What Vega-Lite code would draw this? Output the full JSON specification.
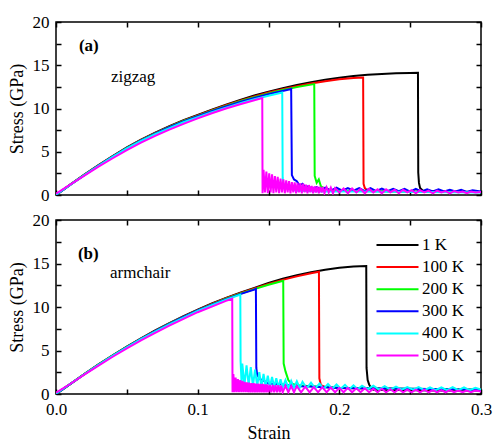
{
"$schema": "https://vega.github.io/schema/vega-lite/v6.json",
"padding": {"left": 7, "top": 12, "right": 2, "bottom": 1},
"config": {
  "font": "Liberation Serif",
  "view": {"stroke": "black", "strokeWidth": 1.5},
  "axis": {"domain": false, "grid": false, "tickColor": "black", "tickWidth": 1.5, "tickSize": -5, "labelColor": "black", "labelFontSize": 17, "labelFont": "Liberation Serif", "labelFlush": false, "labelOverlap": false, "titleFont": "Liberation Serif", "titleFontSize": 18, "titleFontWeight": "normal", "titleColor": "black"},
  "legend": {"labelFont": "Liberation Serif"}
},
"datasets": {
"zz": [
{"T":"1 K","e":0,"s":0},{"T":"1 K","e":0.01,"s":1.2},{"T":"1 K","e":0.02,"s":2.35},{"T":"1 K","e":0.03,"s":3.45},{"T":"1 K","e":0.04,"s":4.5},{"T":"1 K","e":0.05,"s":5.5},{"T":"1 K","e":0.06,"s":6.4},{"T":"1 K","e":0.07,"s":7.2},{"T":"1 K","e":0.08,"s":7.95},{"T":"1 K","e":0.09,"s":8.65},{"T":"1 K","e":0.1,"s":9.25},{"T":"1 K","e":0.11,"s":9.87},{"T":"1 K","e":0.12,"s":10.45},{"T":"1 K","e":0.13,"s":11.0},{"T":"1 K","e":0.14,"s":11.5},{"T":"1 K","e":0.15,"s":11.95},{"T":"1 K","e":0.16,"s":12.35},{"T":"1 K","e":0.17,"s":12.72},{"T":"1 K","e":0.18,"s":13.05},{"T":"1 K","e":0.19,"s":13.32},{"T":"1 K","e":0.2,"s":13.55},{"T":"1 K","e":0.21,"s":13.75},{"T":"1 K","e":0.22,"s":13.9},{"T":"1 K","e":0.23,"s":14.0},{"T":"1 K","e":0.24,"s":14.07},{"T":"1 K","e":0.25,"s":14.11},{"T":"1 K","e":0.2555,"s":14.12},{"T":"1 K","e":0.2557,"s":2.6},{"T":"1 K","e":0.2562,"s":1.4},{"T":"1 K","e":0.257,"s":0.8},{"T":"1 K","e":0.259,"s":0.5},{"T":"1 K","e":0.265,"s":0.45},{"T":"1 K","e":0.275,"s":0.4},{"T":"1 K","e":0.29,"s":0.35},{"T":"1 K","e":0.3,"s":0.35},
{"T":"100 K","e":0,"s":0},{"T":"100 K","e":0.01,"s":1.19},{"T":"100 K","e":0.02,"s":2.33},{"T":"100 K","e":0.03,"s":3.43},{"T":"100 K","e":0.04,"s":4.47},{"T":"100 K","e":0.05,"s":5.46},{"T":"100 K","e":0.06,"s":6.36},{"T":"100 K","e":0.07,"s":7.15},{"T":"100 K","e":0.08,"s":7.9},{"T":"100 K","e":0.09,"s":8.6},{"T":"100 K","e":0.1,"s":9.19},{"T":"100 K","e":0.11,"s":9.8},{"T":"100 K","e":0.12,"s":10.37},{"T":"100 K","e":0.13,"s":10.91},{"T":"100 K","e":0.14,"s":11.4},{"T":"100 K","e":0.15,"s":11.84},{"T":"100 K","e":0.16,"s":12.23},{"T":"100 K","e":0.17,"s":12.58},{"T":"100 K","e":0.18,"s":12.9},{"T":"100 K","e":0.19,"s":13.16},{"T":"100 K","e":0.2,"s":13.38},{"T":"100 K","e":0.21,"s":13.52},{"T":"100 K","e":0.2168,"s":13.58},{"T":"100 K","e":0.2171,"s":1.3},{"T":"100 K","e":0.218,"s":0.8},{"T":"100 K","e":0.22,"s":0.5},{"T":"100 K","e":0.23,"s":0.45},{"T":"100 K","e":0.25,"s":0.4},{"T":"100 K","e":0.27,"s":0.4},{"T":"100 K","e":0.3,"s":0.35},
{"T":"200 K","e":0,"s":0},{"T":"200 K","e":0.01,"s":1.18},{"T":"200 K","e":0.02,"s":2.32},{"T":"200 K","e":0.03,"s":3.41},{"T":"200 K","e":0.04,"s":4.45},{"T":"200 K","e":0.05,"s":5.44},{"T":"200 K","e":0.06,"s":6.33},{"T":"200 K","e":0.07,"s":7.12},{"T":"200 K","e":0.08,"s":7.86},{"T":"200 K","e":0.09,"s":8.55},{"T":"200 K","e":0.1,"s":9.14},{"T":"200 K","e":0.11,"s":9.74},{"T":"200 K","e":0.12,"s":10.3},{"T":"200 K","e":0.13,"s":10.83},{"T":"200 K","e":0.14,"s":11.31},{"T":"200 K","e":0.15,"s":11.75},{"T":"200 K","e":0.16,"s":12.13},{"T":"200 K","e":0.17,"s":12.47},{"T":"200 K","e":0.18,"s":12.76},{"T":"200 K","e":0.1823,"s":12.82},{"T":"200 K","e":0.1826,"s":2.2},{"T":"200 K","e":0.184,"s":1.4},{"T":"200 K","e":0.1855,"s":1.8},{"T":"200 K","e":0.187,"s":1.0},{"T":"200 K","e":0.19,"s":0.7},{"T":"200 K","e":0.195,"s":0.55},{"T":"200 K","e":0.21,"s":0.45},{"T":"200 K","e":0.24,"s":0.4},{"T":"200 K","e":0.27,"s":0.38},{"T":"200 K","e":0.3,"s":0.35},
{"T":"300 K","e":0,"s":0},{"T":"300 K","e":0.01,"s":1.17},{"T":"300 K","e":0.02,"s":2.3},{"T":"300 K","e":0.03,"s":3.39},{"T":"300 K","e":0.04,"s":4.43},{"T":"300 K","e":0.05,"s":5.42},{"T":"300 K","e":0.06,"s":6.3},{"T":"300 K","e":0.07,"s":7.09},{"T":"300 K","e":0.08,"s":7.83},{"T":"300 K","e":0.09,"s":8.51},{"T":"300 K","e":0.1,"s":9.1},{"T":"300 K","e":0.11,"s":9.69},{"T":"300 K","e":0.12,"s":10.24},{"T":"300 K","e":0.13,"s":10.76},{"T":"300 K","e":0.14,"s":11.23},{"T":"300 K","e":0.15,"s":11.66},{"T":"300 K","e":0.16,"s":12.03},{"T":"300 K","e":0.166,"s":12.25},{"T":"300 K","e":0.1665,"s":2.3},{"T":"300 K","e":0.168,"s":1.8},{"T":"300 K","e":0.17,"s":1.6},{"T":"300 K","e":0.172,"s":1.1},{"T":"300 K","e":0.174,"s":1.3},{"T":"300 K","e":0.176,"s":0.9},{"T":"300 K","e":0.178,"s":1.0},{"T":"300 K","e":0.181,"s":0.7},{"T":"300 K","e":0.184,"s":0.9},{"T":"300 K","e":0.187,"s":0.6},{"T":"300 K","e":0.19,"s":0.85},{"T":"300 K","e":0.194,"s":0.5},{"T":"300 K","e":0.198,"s":0.85},{"T":"300 K","e":0.202,"s":0.5},{"T":"300 K","e":0.206,"s":0.8},{"T":"300 K","e":0.21,"s":0.5},{"T":"300 K","e":0.214,"s":0.8},{"T":"300 K","e":0.218,"s":0.45},{"T":"300 K","e":0.222,"s":0.8},{"T":"300 K","e":0.226,"s":0.45},{"T":"300 K","e":0.23,"s":0.75},{"T":"300 K","e":0.234,"s":0.45},{"T":"300 K","e":0.238,"s":0.7},{"T":"300 K","e":0.242,"s":0.45},{"T":"300 K","e":0.246,"s":0.7},{"T":"300 K","e":0.25,"s":0.4},{"T":"300 K","e":0.254,"s":0.7},{"T":"300 K","e":0.258,"s":0.4},{"T":"300 K","e":0.262,"s":0.65},{"T":"300 K","e":0.266,"s":0.4},{"T":"300 K","e":0.27,"s":0.65},{"T":"300 K","e":0.274,"s":0.4},{"T":"300 K","e":0.278,"s":0.6},{"T":"300 K","e":0.282,"s":0.4},{"T":"300 K","e":0.286,"s":0.6},{"T":"300 K","e":0.29,"s":0.35},{"T":"300 K","e":0.294,"s":0.55},{"T":"300 K","e":0.3,"s":0.4},
{"T":"400 K","e":0,"s":0.05},{"T":"400 K","e":0.01,"s":1.17},{"T":"400 K","e":0.02,"s":2.3},{"T":"400 K","e":0.03,"s":3.38},{"T":"400 K","e":0.04,"s":4.41},{"T":"400 K","e":0.05,"s":5.38},{"T":"400 K","e":0.06,"s":6.25},{"T":"400 K","e":0.07,"s":7.02},{"T":"400 K","e":0.08,"s":7.74},{"T":"400 K","e":0.09,"s":8.41},{"T":"400 K","e":0.1,"s":9.0},{"T":"400 K","e":0.11,"s":9.57},{"T":"400 K","e":0.12,"s":10.1},{"T":"400 K","e":0.13,"s":10.6},{"T":"400 K","e":0.14,"s":11.06},{"T":"400 K","e":0.15,"s":11.48},{"T":"400 K","e":0.1597,"s":11.85},{"T":"400 K","e":0.16,"s":2.0},{"T":"400 K","e":0.1605,"s":1.2},{"T":"400 K","e":0.163,"s":0.8},{"T":"400 K","e":0.17,"s":0.5},{"T":"400 K","e":0.19,"s":0.4},{"T":"400 K","e":0.22,"s":0.4},{"T":"400 K","e":0.26,"s":0.35},{"T":"400 K","e":0.3,"s":0.3},
{"T":"500 K","e":0,"s":0.15},{"T":"500 K","e":0.01,"s":1.2},{"T":"500 K","e":0.02,"s":2.25},{"T":"500 K","e":0.03,"s":3.27},{"T":"500 K","e":0.04,"s":4.25},{"T":"500 K","e":0.05,"s":5.2},{"T":"500 K","e":0.06,"s":6.05},{"T":"500 K","e":0.07,"s":6.83},{"T":"500 K","e":0.08,"s":7.55},{"T":"500 K","e":0.09,"s":8.23},{"T":"500 K","e":0.1,"s":8.86},{"T":"500 K","e":0.11,"s":9.45},{"T":"500 K","e":0.12,"s":10.0},{"T":"500 K","e":0.13,"s":10.5},{"T":"500 K","e":0.14,"s":10.95},{"T":"500 K","e":0.1456,"s":11.2},{"T":"500 K","e":0.1458,"s":0.2},
{"T":"500 K","e":0.1465,"s":2.9},{"T":"500 K","e":0.1475,"s":0.3},{"T":"500 K","e":0.1485,"s":2.7},{"T":"500 K","e":0.1495,"s":0.2},{"T":"500 K","e":0.1505,"s":2.5},{"T":"500 K","e":0.1515,"s":0.3},{"T":"500 K","e":0.1525,"s":2.4},{"T":"500 K","e":0.1535,"s":0.2},{"T":"500 K","e":0.1545,"s":2.2},{"T":"500 K","e":0.1555,"s":0.3},{"T":"500 K","e":0.1565,"s":2.1},{"T":"500 K","e":0.1575,"s":0.2},{"T":"500 K","e":0.1585,"s":1.9},{"T":"500 K","e":0.1595,"s":0.3},{"T":"500 K","e":0.1605,"s":1.8},{"T":"500 K","e":0.1615,"s":0.2},{"T":"500 K","e":0.1625,"s":1.7},{"T":"500 K","e":0.1635,"s":0.3},{"T":"500 K","e":0.1645,"s":1.6},{"T":"500 K","e":0.1655,"s":0.2},{"T":"500 K","e":0.1665,"s":1.5},{"T":"500 K","e":0.1675,"s":0.3},{"T":"500 K","e":0.1685,"s":1.45},{"T":"500 K","e":0.1695,"s":0.2},{"T":"500 K","e":0.1705,"s":1.4},{"T":"500 K","e":0.1715,"s":0.3},{"T":"500 K","e":0.1725,"s":1.35},{"T":"500 K","e":0.1735,"s":0.2},{"T":"500 K","e":0.1745,"s":1.3},{"T":"500 K","e":0.1755,"s":0.3},{"T":"500 K","e":0.1765,"s":1.2},{"T":"500 K","e":0.1775,"s":0.2},{"T":"500 K","e":0.1785,"s":1.15},{"T":"500 K","e":0.1795,"s":0.3},{"T":"500 K","e":0.1805,"s":1.05},{"T":"500 K","e":0.1815,"s":0.2},{"T":"500 K","e":0.1825,"s":1.0},{"T":"500 K","e":0.1835,"s":0.3},{"T":"500 K","e":0.1845,"s":0.98},{"T":"500 K","e":0.1855,"s":0.2},{"T":"500 K","e":0.1865,"s":0.95},{"T":"500 K","e":0.1875,"s":0.3},{"T":"500 K","e":0.1885,"s":0.92},{"T":"500 K","e":0.1895,"s":0.2},
{"T":"500 K","e":0.191,"s":0.9},{"T":"500 K","e":0.1925,"s":0.3},{"T":"500 K","e":0.194,"s":0.85},{"T":"500 K","e":0.1955,"s":0.2},{"T":"500 K","e":0.197,"s":0.8},{"T":"500 K","e":0.2,"s":0.3},{"T":"500 K","e":0.203,"s":0.75},{"T":"500 K","e":0.206,"s":0.2},{"T":"500 K","e":0.209,"s":0.75},{"T":"500 K","e":0.212,"s":0.3},{"T":"500 K","e":0.215,"s":0.7},{"T":"500 K","e":0.218,"s":0.2},{"T":"500 K","e":0.221,"s":0.7},{"T":"500 K","e":0.224,"s":0.3},{"T":"500 K","e":0.227,"s":0.65},{"T":"500 K","e":0.23,"s":0.2},{"T":"500 K","e":0.233,"s":0.65},{"T":"500 K","e":0.236,"s":0.3},{"T":"500 K","e":0.239,"s":0.6},{"T":"500 K","e":0.242,"s":0.2},{"T":"500 K","e":0.245,"s":0.6},{"T":"500 K","e":0.248,"s":0.3},{"T":"500 K","e":0.251,"s":0.55},{"T":"500 K","e":0.254,"s":0.2},{"T":"500 K","e":0.257,"s":0.55},{"T":"500 K","e":0.26,"s":0.3},{"T":"500 K","e":0.263,"s":0.5},{"T":"500 K","e":0.266,"s":0.2},{"T":"500 K","e":0.269,"s":0.5},{"T":"500 K","e":0.272,"s":0.3},{"T":"500 K","e":0.275,"s":0.45},{"T":"500 K","e":0.278,"s":0.2},{"T":"500 K","e":0.281,"s":0.45},{"T":"500 K","e":0.284,"s":0.3},{"T":"500 K","e":0.287,"s":0.4},{"T":"500 K","e":0.29,"s":0.2},{"T":"500 K","e":0.293,"s":0.4},{"T":"500 K","e":0.296,"s":0.3},{"T":"500 K","e":0.3,"s":0.35}
],
"ac": [
{"T":"1 K","e":0,"s":0},{"T":"1 K","e":0.01,"s":1.15},{"T":"1 K","e":0.02,"s":2.3},{"T":"1 K","e":0.03,"s":3.4},{"T":"1 K","e":0.04,"s":4.45},{"T":"1 K","e":0.05,"s":5.45},{"T":"1 K","e":0.06,"s":6.4},{"T":"1 K","e":0.07,"s":7.3},{"T":"1 K","e":0.08,"s":8.15},{"T":"1 K","e":0.09,"s":8.95},{"T":"1 K","e":0.1,"s":9.7},{"T":"1 K","e":0.11,"s":10.4},{"T":"1 K","e":0.12,"s":11.05},{"T":"1 K","e":0.13,"s":11.65},{"T":"1 K","e":0.14,"s":12.2},{"T":"1 K","e":0.15,"s":12.75},{"T":"1 K","e":0.16,"s":13.25},{"T":"1 K","e":0.17,"s":13.65},{"T":"1 K","e":0.18,"s":14.0},{"T":"1 K","e":0.19,"s":14.28},{"T":"1 K","e":0.2,"s":14.5},{"T":"1 K","e":0.21,"s":14.65},{"T":"1 K","e":0.219,"s":14.72},{"T":"1 K","e":0.2192,"s":3.0},{"T":"1 K","e":0.22,"s":1.6},{"T":"1 K","e":0.221,"s":1.1},{"T":"1 K","e":0.222,"s":0.8},{"T":"1 K","e":0.224,"s":0.5},{"T":"1 K","e":0.24,"s":0.45},{"T":"1 K","e":0.27,"s":0.4},{"T":"1 K","e":0.3,"s":0.4},
{"T":"100 K","e":0,"s":0},{"T":"100 K","e":0.01,"s":1.14},{"T":"100 K","e":0.02,"s":2.28},{"T":"100 K","e":0.03,"s":3.38},{"T":"100 K","e":0.04,"s":4.42},{"T":"100 K","e":0.05,"s":5.42},{"T":"100 K","e":0.06,"s":6.37},{"T":"100 K","e":0.07,"s":7.26},{"T":"100 K","e":0.08,"s":8.1},{"T":"100 K","e":0.09,"s":8.9},{"T":"100 K","e":0.1,"s":9.65},{"T":"100 K","e":0.11,"s":10.35},{"T":"100 K","e":0.12,"s":11.0},{"T":"100 K","e":0.13,"s":11.58},{"T":"100 K","e":0.14,"s":12.12},{"T":"100 K","e":0.15,"s":12.65},{"T":"100 K","e":0.16,"s":13.12},{"T":"100 K","e":0.17,"s":13.52},{"T":"100 K","e":0.18,"s":13.88},{"T":"100 K","e":0.1856,"s":14.05},{"T":"100 K","e":0.1859,"s":1.8},{"T":"100 K","e":0.187,"s":1.0},{"T":"100 K","e":0.19,"s":0.8},{"T":"100 K","e":0.2,"s":0.7},{"T":"100 K","e":0.23,"s":0.6},{"T":"100 K","e":0.26,"s":0.55},{"T":"100 K","e":0.3,"s":0.45},
{"T":"200 K","e":0,"s":0},{"T":"200 K","e":0.01,"s":1.14},{"T":"200 K","e":0.02,"s":2.28},{"T":"200 K","e":0.03,"s":3.37},{"T":"200 K","e":0.04,"s":4.41},{"T":"200 K","e":0.05,"s":5.41},{"T":"200 K","e":0.06,"s":6.35},{"T":"200 K","e":0.07,"s":7.24},{"T":"200 K","e":0.08,"s":8.08},{"T":"200 K","e":0.09,"s":8.87},{"T":"200 K","e":0.1,"s":9.62},{"T":"200 K","e":0.11,"s":10.3},{"T":"200 K","e":0.12,"s":10.95},{"T":"200 K","e":0.13,"s":11.52},{"T":"200 K","e":0.14,"s":12.05},{"T":"200 K","e":0.15,"s":12.55},{"T":"200 K","e":0.1604,"s":13.02},{"T":"200 K","e":0.1607,"s":3.5},{"T":"200 K","e":0.162,"s":2.6},{"T":"200 K","e":0.164,"s":1.6},{"T":"200 K","e":0.166,"s":1.2},{"T":"200 K","e":0.17,"s":1.0},{"T":"200 K","e":0.18,"s":0.9},{"T":"200 K","e":0.2,"s":0.7},{"T":"200 K","e":0.25,"s":0.6},{"T":"200 K","e":0.3,"s":0.5},
{"T":"300 K","e":0,"s":0},{"T":"300 K","e":0.01,"s":1.14},{"T":"300 K","e":0.02,"s":2.27},{"T":"300 K","e":0.03,"s":3.36},{"T":"300 K","e":0.04,"s":4.4},{"T":"300 K","e":0.05,"s":5.4},{"T":"300 K","e":0.06,"s":6.34},{"T":"300 K","e":0.07,"s":7.22},{"T":"300 K","e":0.08,"s":8.06},{"T":"300 K","e":0.09,"s":8.85},{"T":"300 K","e":0.1,"s":9.6},{"T":"300 K","e":0.11,"s":10.28},{"T":"300 K","e":0.12,"s":10.9},{"T":"300 K","e":0.13,"s":11.48},{"T":"300 K","e":0.14,"s":12.0},{"T":"300 K","e":0.1411,"s":12.08},{"T":"300 K","e":0.1414,"s":3.0},{"T":"300 K","e":0.142,"s":2.2},{"T":"300 K","e":0.144,"s":1.7},{"T":"300 K","e":0.147,"s":1.5},{"T":"300 K","e":0.15,"s":1.2},{"T":"300 K","e":0.16,"s":1.1},{"T":"300 K","e":0.17,"s":0.9},{"T":"300 K","e":0.18,"s":0.85},{"T":"300 K","e":0.2,"s":0.7},{"T":"300 K","e":0.25,"s":0.6},{"T":"300 K","e":0.3,"s":0.5},
{"T":"400 K","e":0,"s":0.05},{"T":"400 K","e":0.01,"s":1.15},{"T":"400 K","e":0.02,"s":2.27},{"T":"400 K","e":0.03,"s":3.35},{"T":"400 K","e":0.04,"s":4.38},{"T":"400 K","e":0.05,"s":5.37},{"T":"400 K","e":0.06,"s":6.3},{"T":"400 K","e":0.07,"s":7.17},{"T":"400 K","e":0.08,"s":8.0},{"T":"400 K","e":0.09,"s":8.79},{"T":"400 K","e":0.1,"s":9.55},{"T":"400 K","e":0.11,"s":10.22},{"T":"400 K","e":0.12,"s":10.83},{"T":"400 K","e":0.1301,"s":11.42},{"T":"400 K","e":0.1303,"s":3.8},{"T":"400 K","e":0.131,"s":1.2},{"T":"400 K","e":0.1315,"s":3.5},{"T":"400 K","e":0.133,"s":1.0},{"T":"400 K","e":0.1345,"s":3.3},{"T":"400 K","e":0.136,"s":1.0},{"T":"400 K","e":0.1375,"s":3.1},{"T":"400 K","e":0.139,"s":0.9},{"T":"400 K","e":0.1405,"s":2.8},{"T":"400 K","e":0.142,"s":0.9},{"T":"400 K","e":0.1435,"s":2.5},{"T":"400 K","e":0.145,"s":0.8},{"T":"400 K","e":0.1465,"s":2.3},{"T":"400 K","e":0.148,"s":0.8},{"T":"400 K","e":0.1495,"s":2.1},{"T":"400 K","e":0.151,"s":0.8},{"T":"400 K","e":0.1525,"s":1.95},{"T":"400 K","e":0.154,"s":0.8},{"T":"400 K","e":0.1555,"s":1.8},{"T":"400 K","e":0.157,"s":0.75},{"T":"400 K","e":0.1585,"s":1.7},{"T":"400 K","e":0.16,"s":0.75},{"T":"400 K","e":0.162,"s":1.6},{"T":"400 K","e":0.164,"s":0.7},{"T":"400 K","e":0.166,"s":1.5},{"T":"400 K","e":0.168,"s":0.7},{"T":"400 K","e":0.17,"s":1.45},{"T":"400 K","e":0.172,"s":0.7},{"T":"400 K","e":0.174,"s":1.4},{"T":"400 K","e":0.177,"s":0.65},{"T":"400 K","e":0.18,"s":1.3},{"T":"400 K","e":0.183,"s":0.65},{"T":"400 K","e":0.186,"s":1.2},{"T":"400 K","e":0.189,"s":0.6},{"T":"400 K","e":0.192,"s":1.15},{"T":"400 K","e":0.195,"s":0.6},{"T":"400 K","e":0.198,"s":1.1},{"T":"400 K","e":0.201,"s":0.6},{"T":"400 K","e":0.204,"s":1.05},{"T":"400 K","e":0.207,"s":0.55},{"T":"400 K","e":0.21,"s":1.0},{"T":"400 K","e":0.213,"s":0.55},{"T":"400 K","e":0.216,"s":0.95},{"T":"400 K","e":0.22,"s":0.55},{"T":"400 K","e":0.224,"s":0.95},{"T":"400 K","e":0.228,"s":0.5},{"T":"400 K","e":0.232,"s":0.9},{"T":"400 K","e":0.236,"s":0.5},{"T":"400 K","e":0.24,"s":0.85},{"T":"400 K","e":0.244,"s":0.5},{"T":"400 K","e":0.248,"s":0.8},{"T":"400 K","e":0.252,"s":0.5},{"T":"400 K","e":0.256,"s":0.8},{"T":"400 K","e":0.26,"s":0.45},{"T":"400 K","e":0.264,"s":0.75},{"T":"400 K","e":0.268,"s":0.45},{"T":"400 K","e":0.272,"s":0.75},{"T":"400 K","e":0.276,"s":0.45},{"T":"400 K","e":0.28,"s":0.8},{"T":"400 K","e":0.284,"s":0.45},{"T":"400 K","e":0.288,"s":0.75},{"T":"400 K","e":0.292,"s":0.45},{"T":"400 K","e":0.296,"s":0.7},{"T":"400 K","e":0.3,"s":0.5},
{"T":"500 K","e":0,"s":0.15},{"T":"500 K","e":0.01,"s":1.15},{"T":"500 K","e":0.02,"s":2.22},{"T":"500 K","e":0.03,"s":3.27},{"T":"500 K","e":0.04,"s":4.28},{"T":"500 K","e":0.05,"s":5.25},{"T":"500 K","e":0.06,"s":6.17},{"T":"500 K","e":0.07,"s":7.03},{"T":"500 K","e":0.08,"s":7.85},{"T":"500 K","e":0.09,"s":8.63},{"T":"500 K","e":0.1,"s":9.4},{"T":"500 K","e":0.11,"s":10.05},{"T":"500 K","e":0.12,"s":10.7},{"T":"500 K","e":0.1244,"s":10.95},{"T":"500 K","e":0.1246,"s":0.2},
{"T":"500 K","e":0.1252,"s":2.3},{"T":"500 K","e":0.126,"s":0.2},{"T":"500 K","e":0.1268,"s":1.9},{"T":"500 K","e":0.1276,"s":0.2},{"T":"500 K","e":0.1284,"s":1.7},{"T":"500 K","e":0.1292,"s":0.2},{"T":"500 K","e":0.13,"s":1.6},{"T":"500 K","e":0.1308,"s":0.2},{"T":"500 K","e":0.1316,"s":1.5},{"T":"500 K","e":0.1324,"s":0.2},{"T":"500 K","e":0.1332,"s":1.4},{"T":"500 K","e":0.134,"s":0.2},{"T":"500 K","e":0.1348,"s":1.35},{"T":"500 K","e":0.1356,"s":0.2},{"T":"500 K","e":0.1364,"s":1.3},{"T":"500 K","e":0.1372,"s":0.2},{"T":"500 K","e":0.138,"s":1.25},{"T":"500 K","e":0.1388,"s":0.2},{"T":"500 K","e":0.1396,"s":1.25},{"T":"500 K","e":0.1404,"s":0.2},{"T":"500 K","e":0.1412,"s":1.2},{"T":"500 K","e":0.142,"s":0.2},{"T":"500 K","e":0.1428,"s":1.2},{"T":"500 K","e":0.1436,"s":0.2},{"T":"500 K","e":0.1444,"s":1.15},{"T":"500 K","e":0.1452,"s":0.2},{"T":"500 K","e":0.146,"s":1.15},{"T":"500 K","e":0.1468,"s":0.2},{"T":"500 K","e":0.1476,"s":1.1},{"T":"500 K","e":0.1484,"s":0.2},{"T":"500 K","e":0.1492,"s":1.1},{"T":"500 K","e":0.15,"s":0.2},{"T":"500 K","e":0.151,"s":1.05},{"T":"500 K","e":0.152,"s":0.2},{"T":"500 K","e":0.153,"s":1.05},{"T":"500 K","e":0.154,"s":0.2},{"T":"500 K","e":0.155,"s":1.0},{"T":"500 K","e":0.156,"s":0.2},{"T":"500 K","e":0.157,"s":1.0},{"T":"500 K","e":0.158,"s":0.2},{"T":"500 K","e":0.159,"s":0.95},{"T":"500 K","e":0.16,"s":0.2},
{"T":"500 K","e":0.162,"s":0.95},{"T":"500 K","e":0.164,"s":0.2},{"T":"500 K","e":0.166,"s":0.9},{"T":"500 K","e":0.168,"s":0.2},{"T":"500 K","e":0.17,"s":0.9},{"T":"500 K","e":0.173,"s":0.2},{"T":"500 K","e":0.176,"s":0.85},{"T":"500 K","e":0.179,"s":0.2},{"T":"500 K","e":0.182,"s":0.8},{"T":"500 K","e":0.185,"s":0.2},{"T":"500 K","e":0.188,"s":0.8},{"T":"500 K","e":0.191,"s":0.2},{"T":"500 K","e":0.194,"s":0.75},{"T":"500 K","e":0.197,"s":0.2},{"T":"500 K","e":0.2,"s":0.7},{"T":"500 K","e":0.203,"s":0.2},{"T":"500 K","e":0.206,"s":0.7},{"T":"500 K","e":0.209,"s":0.2},{"T":"500 K","e":0.212,"s":0.65},{"T":"500 K","e":0.215,"s":0.2},{"T":"500 K","e":0.218,"s":0.65},{"T":"500 K","e":0.221,"s":0.2},{"T":"500 K","e":0.224,"s":0.6},{"T":"500 K","e":0.227,"s":0.2},{"T":"500 K","e":0.23,"s":0.6},{"T":"500 K","e":0.233,"s":0.2},{"T":"500 K","e":0.236,"s":0.55},{"T":"500 K","e":0.239,"s":0.2},{"T":"500 K","e":0.242,"s":0.55},{"T":"500 K","e":0.245,"s":0.2},{"T":"500 K","e":0.248,"s":0.5},{"T":"500 K","e":0.251,"s":0.2},{"T":"500 K","e":0.254,"s":0.5},{"T":"500 K","e":0.257,"s":0.2},{"T":"500 K","e":0.26,"s":0.5},{"T":"500 K","e":0.263,"s":0.2},{"T":"500 K","e":0.266,"s":0.45},{"T":"500 K","e":0.269,"s":0.2},{"T":"500 K","e":0.272,"s":0.45},{"T":"500 K","e":0.275,"s":0.2},{"T":"500 K","e":0.278,"s":0.45},{"T":"500 K","e":0.281,"s":0.2},{"T":"500 K","e":0.284,"s":0.4},{"T":"500 K","e":0.287,"s":0.2},{"T":"500 K","e":0.29,"s":0.4},{"T":"500 K","e":0.293,"s":0.2},{"T":"500 K","e":0.296,"s":0.4},{"T":"500 K","e":0.3,"s":0.3}
]
},
"spacing": 25,
"bounds": "flush",
"resolve": {"legend": {"color": "independent"}},
"vconcat": [
{
 "width": 425, "height": 173,
 "layer": [
  {
   "data": {"name": "zz"},
   "mark": {"type": "line", "strokeWidth": 2, "clip": true},
   "encoding": {
    "x": {"field": "e", "type": "quantitative", "scale": {"domain": [0, 0.3], "nice": false, "zero": false}, "axis": {"orient": "bottom", "values": [0,0.05,0.1,0.15,0.2,0.25,0.3], "labels": false, "title": null}},
    "y": {"field": "s", "type": "quantitative", "scale": {"domain": [0, 20], "nice": false}, "axis": {"orient": "left", "values": [0,2.5,5,7.5,10,12.5,15,17.5,20], "labelExpr": "datum.value % 5 == 0 ? datum.label : ''", "labelPadding": 12, "titlePadding": 6, "title": "Stress (GPa)"}},
    "color": {"field": "T", "type": "nominal", "scale": {"domain": ["1 K","100 K","200 K","300 K","400 K","500 K"], "range": ["#000000","#ff0000","#00ff00","#0000ff","#00ffff","#ff00ff"]}, "legend": null}
   }
  },
  {
   "data": {"values": [{}]},
   "mark": {"type": "text", "text": "(a)", "fontWeight": "bold", "fontSize": 17, "align": "left", "baseline": "middle", "font": "Liberation Serif", "color": "black"},
   "encoding": {
    "x": {"datum": 0.0162, "type": "quantitative", "axis": {"orient": "top", "values": [0,0.05,0.1,0.15,0.2,0.25,0.3], "labels": false, "title": null}},
    "y": {"datum": 17.26, "type": "quantitative", "axis": {"orient": "right", "values": [0,2.5,5,7.5,10,12.5,15,17.5,20], "labels": false, "title": null}}
   }
  },
  {
   "data": {"values": [{}]},
   "mark": {"type": "text", "text": "zigzag", "fontSize": 17, "align": "left", "baseline": "alphabetic", "font": "Liberation Serif", "color": "black"},
   "encoding": {
    "x": {"datum": 0.0388, "type": "quantitative", "axis": null},
    "y": {"datum": 13.1, "type": "quantitative", "axis": null}
   }
  }
 ],
 "resolve": {"axis": {"x": "independent", "y": "independent"}}
},
{
 "width": 425, "height": 174,
 "layer": [
  {
   "data": {"name": "ac"},
   "mark": {"type": "line", "strokeWidth": 2, "clip": true},
   "encoding": {
    "x": {"field": "e", "type": "quantitative", "scale": {"domain": [0, 0.3], "nice": false, "zero": false}, "axis": {"orient": "bottom", "values": [0,0.05,0.1,0.15,0.2,0.25,0.3], "labelExpr": "round(datum.value*20) % 2 == 0 ? format(datum.value, '.1f') : ''", "labelPadding": 12, "titlePadding": 7, "title": "Strain"}},
    "y": {"field": "s", "type": "quantitative", "scale": {"domain": [0, 20], "nice": false}, "axis": {"orient": "left", "values": [0,2.5,5,7.5,10,12.5,15,17.5,20], "labelExpr": "datum.value % 5 == 0 ? datum.label : ''", "labelPadding": 12, "titlePadding": 6, "title": "Stress (GPa)"}},
    "color": {"field": "T", "type": "nominal", "scale": {"domain": ["1 K","100 K","200 K","300 K","400 K","500 K"], "range": ["#000000","#ff0000","#00ff00","#0000ff","#00ffff","#ff00ff"]},
      "legend": {"orient": "none", "legendX": 333, "legendY": 16.5, "title": null, "symbolType": "M-3,0H3", "symbolSize": 196, "symbolStrokeWidth": 2, "labelFontSize": 17, "labelFont": "Liberation Serif", "labelColor": "black", "labelOffset": 16, "rowPadding": 4.1, "padding": 0}}
   }
  },
  {
   "data": {"values": [{}]},
   "mark": {"type": "text", "text": "(b)", "fontWeight": "bold", "fontSize": 17, "align": "left", "baseline": "middle", "font": "Liberation Serif", "color": "black"},
   "encoding": {
    "x": {"datum": 0.0155, "type": "quantitative", "axis": {"orient": "top", "values": [0,0.05,0.1,0.15,0.2,0.25,0.3], "labels": false, "title": null}},
    "y": {"datum": 16.07, "type": "quantitative", "axis": {"orient": "right", "values": [0,2.5,5,7.5,10,12.5,15,17.5,20], "labels": false, "title": null}}
   }
  },
  {
   "data": {"values": [{}]},
   "mark": {"type": "text", "text": "armchair", "fontSize": 17, "align": "left", "baseline": "alphabetic", "font": "Liberation Serif", "color": "black"},
   "encoding": {
    "x": {"datum": 0.0381, "type": "quantitative", "axis": null},
    "y": {"datum": 13.29, "type": "quantitative", "axis": null}
   }
  }
 ],
 "resolve": {"axis": {"x": "independent", "y": "independent"}}
}
]
}
